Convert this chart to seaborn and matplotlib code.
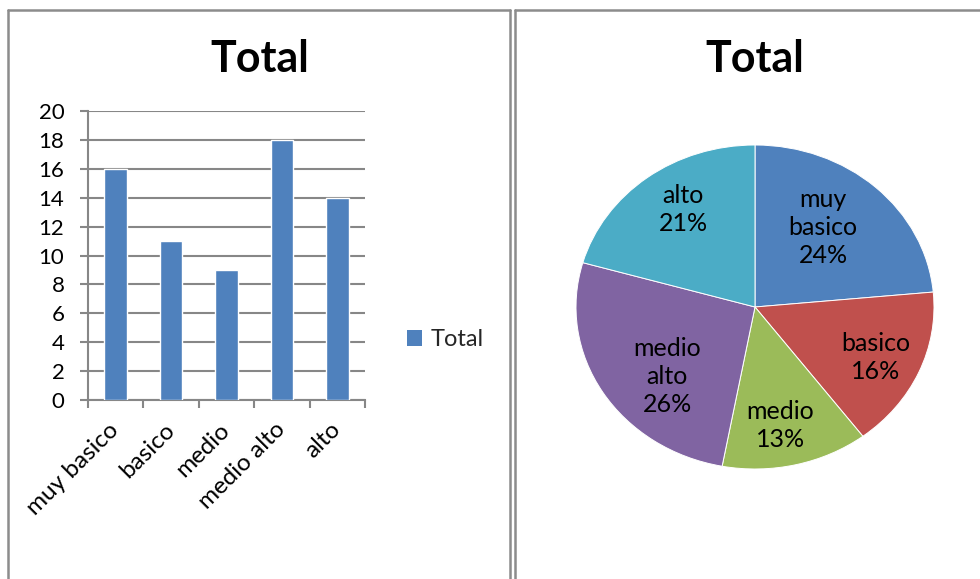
import matplotlib
matplotlib.use("Agg")
import matplotlib.pyplot as plt
from matplotlib.patches import Patch
from matplotlib.lines import Line2D
import numpy as np
import pandas as pd
import seaborn as sns

# Data
categories = ["muy basico", "basico", "medio", "medio alto", "alto"]
totals = [16, 11, 9, 18, 14]
y_ticks = [0, 2, 4, 6, 8, 10, 12, 14, 16, 18, 20]
series_name = "Total"
chart_title = "Total"

# Office-style palette
slice_colors = ["#4F81BD", "#C0504D", "#9BBB59", "#8064A2", "#4BACC6"]
bar_color = slice_colors[0]
grid_gray = "#878787"

sns.set_theme(style="white")
plt.rcParams["font.family"] = ["Lato", "DejaVu Sans"]

W, H = 980, 579
fig = plt.figure(figsize=(W / 100, H / 100), dpi=100)
fig.patch.set_facecolor("white")


def fx(px):
    return px / W


def fy(py):
    return 1 - py / H


# Panel frames
frame_kw = dict(color="#8c8c8c", linewidth=1.8, transform=fig.transFigure)
fig.add_artist(Line2D([fx(8), fx(8)], [fy(10), fy(590)], **frame_kw))
fig.add_artist(Line2D([fx(8), fx(510)], [fy(10), fy(10)], **frame_kw))
fig.add_artist(Line2D([fx(510), fx(510)], [fy(10), fy(590)], **frame_kw))
fig.add_artist(Line2D([fx(515), fx(515)], [fy(10), fy(590)], **frame_kw))
fig.add_artist(Line2D([fx(515), fx(995)], [fy(10), fy(10)], **frame_kw))

# ---- Bar chart ----
ax = fig.add_axes([fx(88), fy(400), (365 - 88) / W, (400 - 111) / H])
df = pd.DataFrame({"categoria": categories, "valor": totals})
sns.barplot(data=df, x="categoria", y="valor", color=bar_color, saturation=1,
            width=0.41, ax=ax, zorder=3)
ax.set_xlim(-0.5, len(categories) - 0.5)
ax.set_ylim(y_ticks[0], y_ticks[-1])
ax.set_yticks(y_ticks)
ax.set_xlabel("")
ax.set_ylabel("")
ax.yaxis.grid(True, color=grid_gray, linewidth=1.5, zorder=0)
ax.set_axisbelow(True)
for side in ["top", "right"]:
    ax.spines[side].set_visible(False)
for side in ["left", "bottom"]:
    ax.spines[side].set_color(grid_gray)
    ax.spines[side].set_linewidth(1.5)
ax.tick_params(axis="y", direction="out", length=6, width=1.5, color=grid_gray,
               labelsize=16, labelcolor="black", pad=11, left=True)
ax.set_xticks(range(len(categories)))
ax.set_xticklabels(categories, rotation=45, ha="right", va="center",
                   rotation_mode="anchor", fontsize=17.5, color="black")
ax.tick_params(axis="x", which="major", length=0, pad=19)
ax.set_xticks(np.arange(-0.5, len(categories), 1), minor=True)
ax.tick_params(axis="x", which="minor", direction="out", length=6, width=1.5,
               color=grid_gray, bottom=True)

fig.text(fx(260), fy(72), chart_title, ha="center", va="baseline",
         fontsize=31, fontweight="bold", color="black")

fig.legend(handles=[Patch(facecolor=bar_color, edgecolor="none", label=series_name)],
           loc="center left", bbox_to_anchor=(fx(407), fy(340)), frameon=False,
           fontsize=17, handlelength=0.65, handleheight=0.65, handletextpad=0.35,
           borderpad=0, borderaxespad=0)

# ---- Pie chart ----
rx, ry = 179, 162
ax2 = fig.add_axes([fx(755 - 200), fy(307 + 200), 400 / W, 400 / H])
wedges, _ = ax2.pie(totals, colors=slice_colors, startangle=90, counterclock=False,
                    wedgeprops=dict(edgecolor="white", linewidth=0.7))
ax2.set_aspect("auto")
ax2.set_xlim(-200 / rx, 200 / rx)
ax2.set_ylim(-200 / ry, 200 / ry)

total_sum = sum(totals)
label_pos = [(0.38, 0.49), (0.676, -0.31), (0.14, -0.73), (-0.49, -0.43), (-0.40, 0.60)]
for name, val, (lx, ly) in zip(categories, totals, label_pos):
    pct = round(val / total_sum * 100)
    ax2.text(lx, ly, f"{name.replace(' ', chr(10))}\n{pct}%", ha="center", va="center",
             multialignment="center", fontsize=18, linespacing=1.25, color="black")

fig.text(fx(755), fy(72), chart_title, ha="center", va="baseline",
         fontsize=31, fontweight="bold", color="black")

fig.savefig("out.png", dpi=100)
